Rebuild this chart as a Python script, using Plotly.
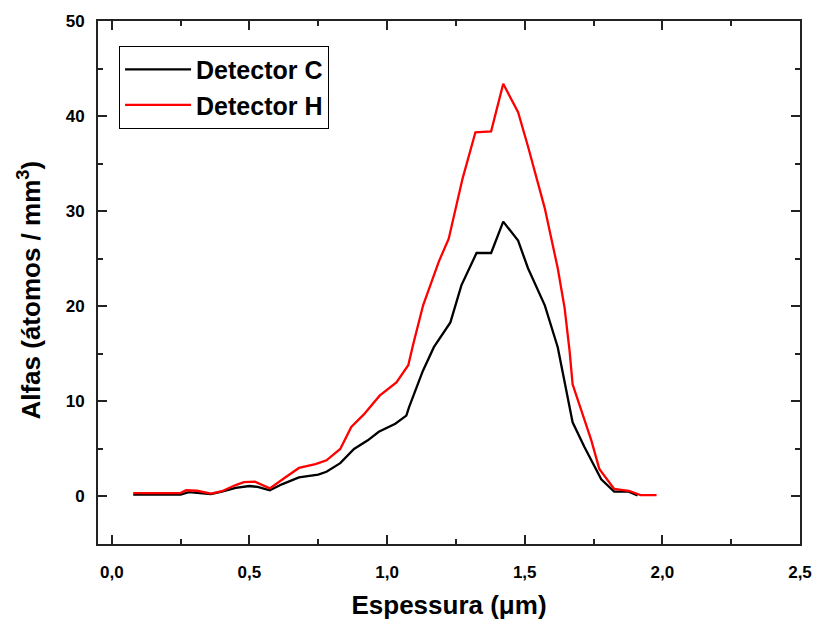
import plotly.graph_objects as go

# Detector C (black)
x_c = [0.078, 0.25, 0.28, 0.32, 0.36, 0.40, 0.45, 0.50, 0.53, 0.574, 0.62, 0.68, 0.75, 0.78,
       0.83, 0.88, 0.93, 0.97, 1.03, 1.07, 1.08, 1.13, 1.17, 1.23, 1.27, 1.325, 1.378, 1.422,
       1.476, 1.512, 1.573, 1.62, 1.645, 1.674, 1.717, 1.778, 1.825, 1.878, 1.91]
y_c = [0.2, 0.2, 0.45, 0.35, 0.25, 0.5, 0.9, 1.1, 1.0, 0.65, 1.3, 2.0, 2.3, 2.6,
       3.5, 5.0, 5.9, 6.8, 7.65, 8.5, 9.4, 13.2, 15.7, 18.3, 22.2, 25.6, 25.6, 28.9,
       26.9, 24.0, 20.1, 15.7, 12.2, 7.8, 5.2, 1.8, 0.5, 0.5, 0.1]

# Detector H (red)
x_h = [0.078, 0.25, 0.27, 0.31, 0.36, 0.40, 0.45, 0.48, 0.52, 0.574, 0.63, 0.68, 0.74, 0.78,
       0.83, 0.87, 0.915, 0.973, 1.034, 1.077, 1.095, 1.131, 1.188, 1.224, 1.274, 1.321, 1.378,
       1.422, 1.476, 1.512, 1.573, 1.62, 1.645, 1.663, 1.674, 1.706, 1.742, 1.771, 1.825, 1.878,
       1.921, 1.979]
y_h = [0.35, 0.35, 0.65, 0.6, 0.3, 0.55, 1.2, 1.5, 1.55, 0.85, 2.0, 3.0, 3.4, 3.8,
       5.0, 7.3, 8.6, 10.6, 12.0, 13.8, 16.0, 20.1, 24.7, 27.1, 33.4, 38.3, 38.4,
       43.4, 40.4, 36.8, 30.3, 24.0, 19.8, 15.3, 11.8, 9.1, 5.9, 2.9, 0.8, 0.6,
       0.15, 0.15]

x_ticks = [0.0, 0.5, 1.0, 1.5, 2.0, 2.5]
y_ticks = [0, 10, 20, 30, 40, 50]

FONT = "Liberation Sans, Arial, sans-serif"

fig = go.Figure()
fig.add_trace(go.Scatter(x=x_c, y=y_c, mode="lines", name="Detector C",
                         line=dict(color="black", width=2.3)))
fig.add_trace(go.Scatter(x=x_h, y=y_h, mode="lines", name="Detector H",
                         line=dict(color="#ff0000", width=2.3)))

axis_common = dict(
    showline=True, linecolor="#222222", linewidth=2, mirror="ticks",
    ticks="inside", ticklen=9, tickwidth=1.5, tickcolor="#222222",
    showgrid=False, zeroline=False,
    tickfont=dict(family=FONT, size=17, color="black", weight="bold"),
)

fig.update_layout(
    width=824, height=627,
    margin=dict(l=98, r=17, t=21, b=79),
    paper_bgcolor="white", plot_bgcolor="white",
    separators=", ",
    showlegend=True,
    legend=dict(
        x=0.03, y=0.953, xanchor="left", yanchor="top",
        bordercolor="black", borderwidth=1, bgcolor="white",
        font=dict(family=FONT, size=25, color="black", weight="bold"),
        itemwidth=66, tracegroupgap=0,
    ),
    xaxis=dict(
        range=[-0.05, 2.5], tickvals=x_ticks, tickformat=".1f",
        minor=dict(dtick=0.25, tick0=0, ticks="inside", ticklen=5, tickcolor="#222222"),
        ticklabelstandoff=12,
        title=dict(text="Espessura (μm)", standoff=14,
                   font=dict(family=FONT, size=26, color="black", weight="bold")),
        **axis_common,
    ),
    yaxis=dict(
        range=[-5, 50], tickvals=y_ticks,
        minor=dict(dtick=5, tick0=0, ticks="inside", ticklen=5, tickcolor="#222222"),
        ticklabelstandoff=8,
        **axis_common,
    ),
    annotations=[dict(
        text="Alfas (átomos / mm<sup>3</sup>)", textangle=-90,
        xref="paper", yref="paper", x=-0.098, y=0.485,
        xanchor="center", yanchor="middle", showarrow=False,
        font=dict(family=FONT, size=26, color="black", weight="bold"),
    )],
)

fig.write_html("out.html")
